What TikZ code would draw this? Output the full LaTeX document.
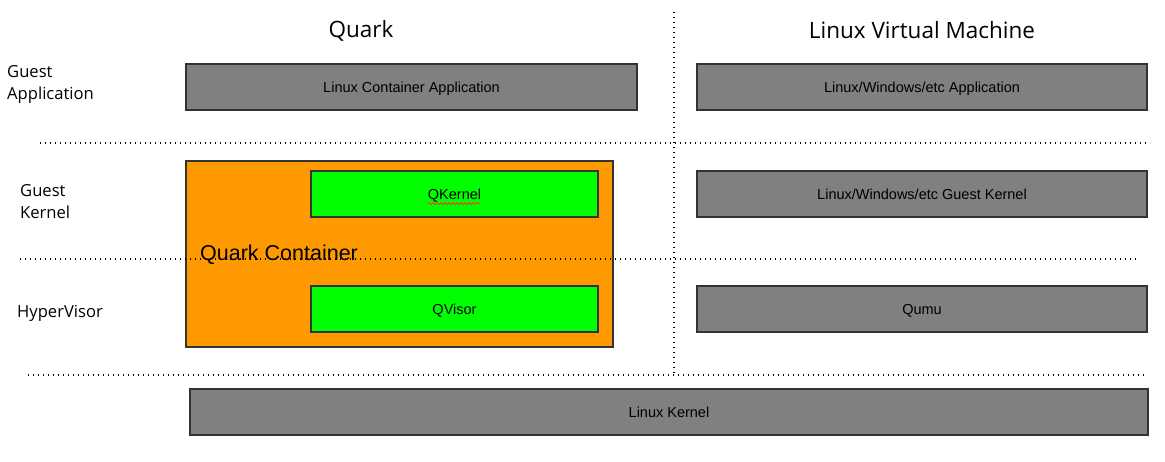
\documentclass[tikz,border=0pt]{standalone}
\usepackage{fontspec}
\setmainfont{Liberation Sans}
\newfontfamily\sidefont{Open Sans}
\usetikzlibrary{decorations.pathmorphing}

\definecolor{boxgray}{HTML}{808080}
\definecolor{edgegray}{HTML}{333333}
\definecolor{quarkorange}{HTML}{FF9900}
\definecolor{qgreen}{HTML}{00FF00}

\tikzset{
    layerbox/.style={draw=edgegray, line width=1.5pt, fill=boxgray, minimum height=46pt,
        inner sep=0pt, text height=13pt, text depth=1.2pt, font=\fontsize{14.5}{17}\selectfont},
    qbox/.style={layerbox, fill=qgreen, minimum width=287pt},
    sep/.style={line width=1.2pt, dash pattern=on 1.2pt off 3.8pt},
    sidelabel/.style={align=left, anchor=north west, inner sep=0pt,
        font=\sidefont\fontsize{16.6}{22}\selectfont},
    title/.style={font=\sidefont\fontsize{22.5}{26}\selectfont}
}

\begin{document}
\begin{tikzpicture}[x=1pt, y=-1pt]
            \useasboundingbox (0,0) rectangle (1165,462);
            \node[title] (tquark) at (361,30.5) {Quark};
            \node[title] (tvm) at (922,30.5) {Linux Virtual Machine};
            \node[sidelabel] (lapp) at (7,65.5) {Guest\\Application};
            \node[sidelabel] (lkern) at (20,184.5) {Guest\\Kernel};
            \node[sidelabel] (lhyp) at (17,305) {HyperVisor};
            \node[layerbox, minimum width=451pt] (capp) at (411.5,87) {Linux Container Application};
            \node[layerbox, minimum width=450pt] (vmapp) at (922,87) {Linux/Windows/etc Application};
            \node[layerbox, fill=quarkorange, minimum width=427pt, minimum height=186pt] (qcont) at (399.5,254) {};
            \node[anchor=base west, inner sep=0pt, font=\fontsize{21.5}{24}\selectfont] (qlabel) at (200,261) {Quark Container};
            \node[qbox] (qkern) at (454.5,194) {QKernel};
            \node[qbox] (qvis) at (454.5,309) {QVisor};
            \node[layerbox, minimum width=450pt] (vmkern) at (922,194) {Linux/Windows/etc Guest Kernel};
            \node[layerbox, minimum width=450pt] (qumu) at (922,309) {Qumu};
            \node[layerbox, minimum width=958pt] (lkernel) at (669,412) {Linux Kernel};
        %   spell check mark
            \draw[red!80, line width=0.8pt, decorate, decoration={snake, amplitude=1pt, segment length=4pt}]
                (428,203.5) -- (480,203.5);
            \draw[sep] (674,12) -- (674,375);
            \draw[sep] (40,143) -- (1150,143);
            \draw[sep] (20,259) -- (1138,259);
            \draw[sep] (28,375) -- (1147,375);
        \end{tikzpicture}
\end{document}
